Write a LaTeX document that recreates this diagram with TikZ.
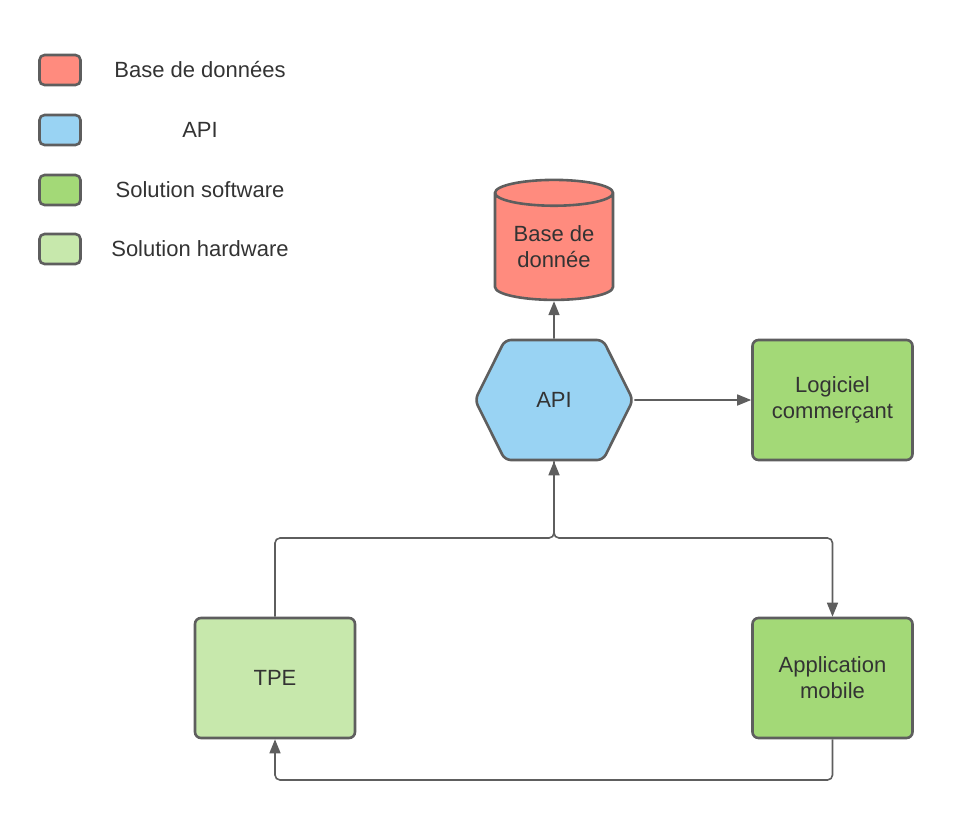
\documentclass[tikz,border=0pt]{standalone}
\usepackage{fontspec}
\setmainfont{Liberation Sans}
\usepackage{tikz}
\usetikzlibrary{
  arrows.meta, positioning, shapes.geometric, shapes.symbols, calc
}
\usepackage{xcolor}
\definecolor{dbred}{HTML}{FF8B7E}
\definecolor{apiblue}{HTML}{99D3F3}
\definecolor{softgreen}{HTML}{A3D977}
\definecolor{hardgreen}{HTML}{C7E8AC}
\definecolor{linegray}{HTML}{5E5E5E}
\definecolor{textgray}{HTML}{333333}
\newcommand{\diagfont}{\fontsize{22}{26}\selectfont}

\begin{document}
\begin{tikzpicture}[
    x=1pt, y=-1pt,
    box/.style={draw=linegray, rounded corners=6pt, line width=2.6pt,
                minimum width=160pt, minimum height=120pt, inner sep=0pt,
                align=center, text=textgray, font=\diagfont},
    key/.style={draw=linegray, rounded corners=5pt, line width=2.6pt,
                minimum width=41pt, minimum height=30pt, inner sep=0pt},
    keylabel/.style={text=textgray, font=\diagfont},
    link/.style={draw=linegray, line width=1.6pt, rounded corners=5pt},
    arrow/.style={link, -{Triangle[length=14pt, width=11pt]}},
  ]
    \useasboundingbox (0,0) rectangle (953,820);

    % Legend
    \node[key, fill=dbred] (keydb) at (60,70) {};
    \node[keylabel] (keydblabel) at (200,70) {Base de données};
    \node[key, fill=apiblue] (keyapi) at (60,130) {};
    \node[keylabel] (keyapilabel) at (200,130) {API};
    \node[key, fill=softgreen] (keysoft) at (60,190) {};
    \node[keylabel] (keysoftlabel) at (200,190) {Solution software};
    \node[key, fill=hardgreen] (keyhard) at (60,249) {};
    \node[keylabel] (keyhardlabel) at (200,249) {Solution hardware};

    % Database
    \node[shape=cylinder, shape border rotate=90, aspect=0.32,
          draw=linegray, line width=2.6pt, cylinder uses custom fill,
          cylinder body fill=dbred, cylinder end fill=dbred,
          minimum width=118pt, minimum height=120pt, inner sep=0pt,
          align=center, text=textgray, font=\diagfont]
      (db) at (554,247) {Base de\\donnée};

    % API
    \node[shape=signal, signal to=east and west, signal pointer angle=127,
          draw=linegray, line width=2.6pt, rounded corners=6pt, fill=apiblue,
          minimum width=158pt, minimum height=120pt, inner sep=0pt,
          text=textgray, font=\diagfont]
      (api) at (554,400) {API};

    % Software and hardware
    \node[box, fill=softgreen] (logiciel) at (832.5,400) {Logiciel\\commerçant};
    \node[box, fill=softgreen] (mobile) at (832.5,678) {Application\\mobile};
    \node[box, fill=hardgreen] (tpe) at (275,678) {TPE};

    \coordinate (split) at (554,538);
    \coordinate (loop) at (554,780);

    % Arrows
    \draw[arrow] (api) -- (db);
    \draw[arrow] (api) -- (logiciel);
    \draw[arrow] (tpe.north) |- (split) -- (api.south);
    \draw[arrow] (api.south) -- (split) -| (mobile.north);
    \draw[arrow] (mobile.south) |- (loop) -| (tpe.south);
  \end{tikzpicture}
\end{document}
